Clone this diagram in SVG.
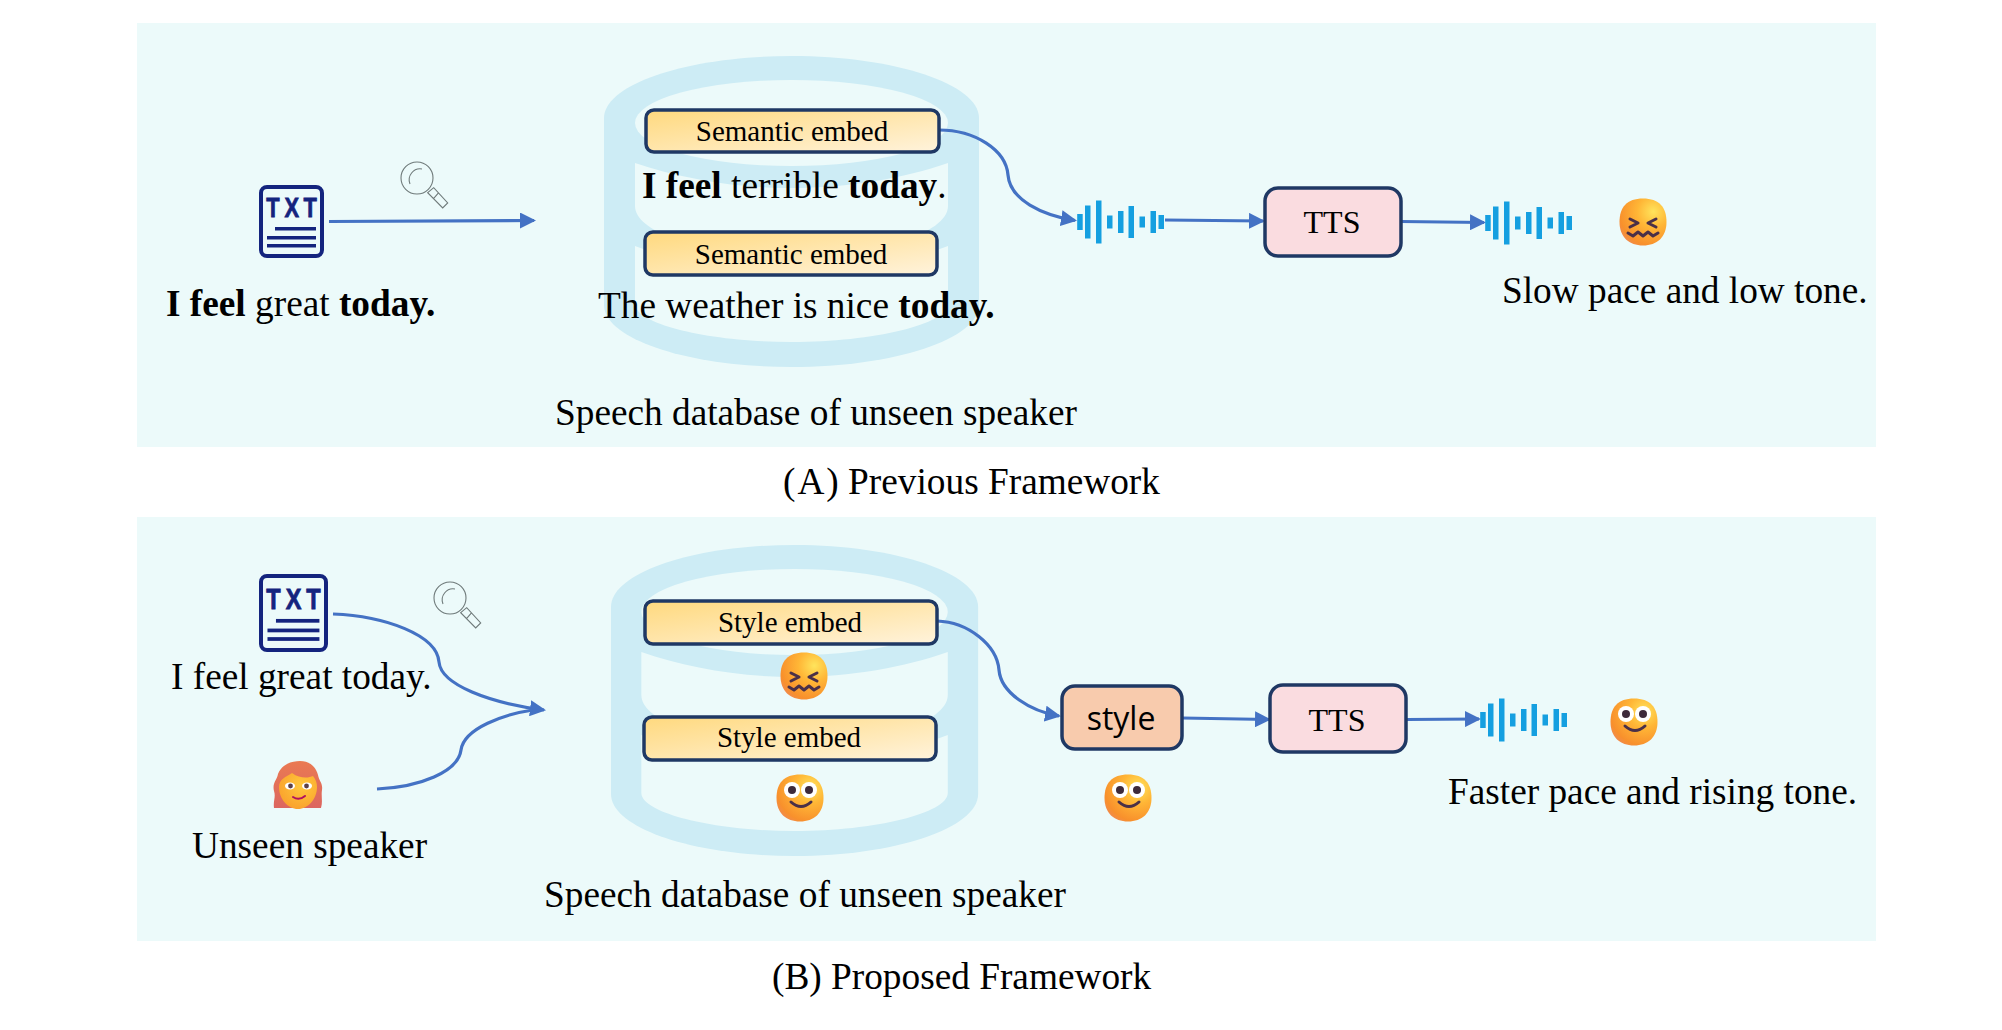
<svg xmlns="http://www.w3.org/2000/svg" width="2002" height="1030" viewBox="0 0 2002 1030">
<style>
text{font-family:"Liberation Serif","Times New Roman",serif;fill:#000}
.t35{font-size:37.3px}
.t29{font-size:29px}
.t31{font-size:32px}
.b{font-weight:700}
.m{text-anchor:middle}
.panel{fill:#ecfafa}
.box{stroke:#1f3864;stroke-width:3.5}
.emb{fill:url(#embGrad)}
.wire{fill:none;stroke:#4472c4;stroke-width:3.2}
.arr{marker-end:url(#head)}
.bar{fill:#159fe0}
.mag{fill:none;stroke:#6f7a7a;stroke-width:1.1}
.ico{fill:none;stroke:#14247e;stroke-width:4}
.icof{fill:#14247e}
.txt{font-family:"Liberation Sans",Arial,sans-serif;font-weight:700;font-size:28px;fill:#14247e;stroke:#14247e;stroke-width:.8;text-anchor:middle;letter-spacing:6px}
.ink{fill:none;stroke:#4a3048;stroke-width:3;stroke-linecap:round;stroke-linejoin:round}
</style>
<defs>
<marker id="head" markerUnits="userSpaceOnUse" markerWidth="16" markerHeight="16" viewBox="0 0 16 16" refX="14" refY="8" orient="auto"><path d="M0,0L16,8L0,16Z" fill="#4472c4"/></marker>
<linearGradient id="embGrad" x1="0" y1="0" x2="1" y2="1"><stop offset="0" stop-color="#ffd97e"/><stop offset="1" stop-color="#fff3dc"/></linearGradient>
<radialGradient id="face" cx="0.72" cy="0.28" r="0.85"><stop offset="0" stop-color="#ffe45c"/><stop offset="0.4" stop-color="#ffb636"/><stop offset="0.85" stop-color="#f8902c"/><stop offset="1" stop-color="#f08a50"/></radialGradient>
<radialGradient id="skin" cx="0.6" cy="0.35" r="0.8"><stop offset="0" stop-color="#ffc93c"/><stop offset="1" stop-color="#f99a2a"/></radialGradient>
<linearGradient id="hair" x1="0" y1="0" x2="0" y2="1"><stop offset="0" stop-color="#ea7a52"/><stop offset="1" stop-color="#dc6660"/></linearGradient>
<g id="cyl">
<path d="M0,62C0,28 84,0 187.5,0C291,0 375,28 375,62V249C375,283 291,311 187.5,311C84,311 0,283 0,249Z" fill="#cdecf5"/>
<ellipse cx="187.5" cy="67" rx="156.5" ry="43" fill="#ecfafa"/>
<path d="M31,107C75,122 130,132 187.5,132C245,132 300,122 344,107V150C344,178 270,200 187.5,200C105,200 31,178 31,150Z" fill="#ecfafa"/>
<path d="M31,190C75,206 130,217 187.5,217C245,217 300,206 344,190V248C344,268 270,286 187.5,286C105,286 31,268 31,248Z" fill="#ecfafa"/>
</g>
<g id="wave">
<rect class="bar" x="-2.8" y="-8" width="5.5" height="16"/>
<rect class="bar" x="5" y="-16.5" width="5.5" height="33"/>
<rect class="bar" x="16" y="-21.5" width="5.5" height="43"/>
<rect class="bar" x="27" y="-6.5" width="5.5" height="13"/>
<rect class="bar" x="38" y="-11" width="5.5" height="22"/>
<rect class="bar" x="48.5" y="-16" width="5.5" height="32"/>
<rect class="bar" x="59.5" y="-5.5" width="5.5" height="11"/>
<rect class="bar" x="70.5" y="-11" width="5.5" height="22"/>
<rect class="bar" x="78.5" y="-7" width="5.5" height="14"/>
</g>
<path id="faceBase" d="M0,-23.5C16,-23.5 23.5,-15 23.5,0C23.5,15 14,23.5 0,23.5C-14,23.5 -23.5,15 -23.5,0C-23.5,-15 -16,-23.5 0,-23.5Z" fill="url(#face)"/>
<g id="smile">
<use href="#faceBase"/>
<circle cx="-8" cy="-8" r="8" fill="#fff"/><circle cx="9" cy="-8" r="8" fill="#fff"/>
<circle cx="-8" cy="-8" r="4" fill="#3d2a3a"/><circle cx="9" cy="-8" r="4" fill="#3d2a3a"/>
<path class="ink" d="M-9,4Q1,13 11,4"/>
</g>
<g id="conf">
<use href="#faceBase"/>
<path class="ink" d="M-13,-3L-5,1L-13,5M13,-3L5,1L13,5M-15,11L-10,14L-5,10L0,14L5,10L10,14L15,11"/>
</g>
<g id="mag">
<circle class="mag" r="16"/>
<path class="mag" d="M5,-9A11,11 0 0 0 -7,6M10.7,14.7L16.7,9.7L30.7,25L25.7,30ZM16.7,20.3L21.7,14.7"/>
</g>
<g id="doc">
<rect class="icof" x="16" y="42" width="41" height="3.5"/>
<rect class="icof" x="8" y="51" width="49" height="3.5"/>
<rect class="icof" x="8" y="59" width="49" height="3.5"/>
</g>
</defs>
<rect width="2002" height="1030" fill="#fff"/>
<rect class="panel" x="137" y="23" width="1739" height="424"/>
<rect class="panel" x="137" y="517" width="1739" height="424"/>

<g id="database-a"><use href="#cyl" x="604" y="56"/></g>
<g id="database-b"><use href="#cyl" transform="translate(611,545) scale(0.979,1)"/></g>

<g id="connectors">
<path class="wire arr" d="M329,221.5L534,220.5"/>
<path class="wire arr" d="M939,130C975,130 1006,150 1008,175C1010,200 1042,215 1075,220.5"/>
<path class="wire arr" d="M1165,220L1263,221"/>
<path class="wire arr" d="M1401,221.5L1484,222.5"/>
<path class="wire arr" d="M333,614C385,616 437,635 439,662C441,685 490,703 544,710"/>
<path class="wire" d="M377,789C420,787 458,772 461,750C464,728 505,714 533,710"/>
<path class="wire arr" d="M937,621C968,622 997,645 999,670C1001,693 1030,711 1059,716"/>
<path class="wire arr" d="M1182,718L1269,719.5"/>
<path class="wire arr" d="M1407,719.5L1479,719"/>
</g>

<g id="txt-a"><rect class="ico" x="261" y="187" width="61" height="69" rx="6"/><text class="txt" transform="translate(294,217) scale(0.78,1)">TXT</text><use href="#doc" transform="translate(259,185)"/></g>
<g id="search-a"><use href="#mag" x="417" y="178"/></g>
<g id="input-a"><text class="t35" x="166" y="316"><tspan class="b">I feel</tspan> great <tspan class="b">today.</tspan></text></g>

<g id="embed-a1"><rect class="box emb" x="646" y="110" width="293" height="42" rx="8"/><text class="t29 m" x="792" y="141">Semantic embed</text></g>
<g id="sent-a1"><text class="t35" x="642" y="198"><tspan class="b">I feel</tspan> terrible <tspan class="b">today</tspan>.</text></g>
<g id="embed-a2"><rect class="box emb" x="645" y="232" width="292" height="43" rx="8"/><text class="t29 m" x="791" y="264">Semantic embed</text></g>
<g id="sent-a2"><text class="t35" x="598" y="318">The weather is nice <tspan class="b">today.</tspan></text></g>
<g id="db-label-a"><text class="t35" x="555" y="425">Speech database of unseen speaker</text></g>

<g id="wave-a1"><use href="#wave" x="1080" y="222"/></g>
<g id="tts-a"><rect class="box" x="1265" y="188" width="136" height="68" rx="13" fill="#fadce0"/><text class="t31 m" x="1332" y="233">TTS</text></g>
<g id="wave-a2"><use href="#wave" x="1488" y="223"/></g>
<g id="emoji-a"><use href="#conf" x="1643" y="222"/></g>
<g id="result-a"><text class="t35" x="1502" y="303">Slow pace and low tone.</text></g>
<g id="caption-a"><text class="t35" x="783" y="494">(<tspan dx="2">A</tspan><tspan dx="2">)</tspan> Previous Framework</text></g>

<g id="txt-b"><rect class="ico" x="261" y="576" width="65" height="74" rx="6"/><text class="txt" transform="translate(296,609) scale(0.84,1.07)">TXT</text><g transform="translate(259,574) scale(1.06,1.07)"><use href="#doc"/></g></g>
<g id="search-b"><use href="#mag" x="450" y="598"/></g>
<g id="input-b"><text class="t35" x="171" y="689">I feel great today.</text></g>
<g id="speaker" transform="translate(298,785)">
<path d="M-24,23C-25,16 -22,12 -24,6C-26,-2 -21,-5 -20,-11C-16,-21 -6,-24 2,-24C12,-24 18,-18 20,-10C21,-4 25,-2 24,5C23,11 25,17 23,23Z" fill="url(#hair)"/>
<path d="M-19,2C-19,-6 -12,-8 -6,-12C2,-6 11,-7 15,-9C18,-5 19,-2 19,2C19,14 10,24 0,24C-10,24 -19,14 -19,2Z" fill="url(#skin)"/>
<ellipse cx="-8" cy="1" rx="5" ry="3.4" fill="#fff"/><ellipse cx="9" cy="1" rx="5" ry="3.4" fill="#fff"/>
<circle cx="-7.5" cy="1" r="2.4" fill="#5a4048"/><circle cx="8.5" cy="1" r="2.4" fill="#5a4048"/>
<path d="M-5,12Q1,16 7,11" fill="none" stroke="#b0105e" stroke-width="2" stroke-linecap="round"/>
</g>
<g id="speaker-label"><text class="t35" x="192" y="858">Unseen speaker</text></g>

<g id="embed-b1"><rect class="box emb" x="645" y="601" width="292" height="43" rx="8"/><text class="t29 m" x="790" y="632">Style embed</text></g>
<g id="emoji-b1"><use href="#conf" x="804" y="676"/></g>
<g id="embed-b2"><rect class="box emb" x="644" y="717" width="292" height="43" rx="8"/><text class="t29 m" x="789" y="747">Style embed</text></g>
<g id="emoji-b2"><use href="#smile" x="800" y="798"/></g>
<g id="db-label-b"><text class="t35" x="544" y="907">Speech database of unseen speaker</text></g>

<g id="style-box"><rect class="box" x="1062" y="686" width="120" height="63" rx="13" fill="#f8cbad"/><text x="1121" y="730" text-anchor="middle" style="font-family:'Open Sans',sans-serif;font-size:32px">style</text></g>
<g id="emoji-b3"><use href="#smile" x="1128" y="798"/></g>
<g id="tts-b"><rect class="box" x="1270" y="685" width="136" height="67" rx="13" fill="#fadce0"/><text class="t31 m" x="1337" y="731">TTS</text></g>
<g id="wave-b"><use href="#wave" x="1483" y="720"/></g>
<g id="emoji-b4"><use href="#smile" x="1634" y="722"/></g>
<g id="result-b"><text class="t35" x="1448" y="804">Faster pace and rising tone.</text></g>
<g id="caption-b"><text class="t35" x="772" y="989">(B) Proposed Framework</text></g>
</svg>
